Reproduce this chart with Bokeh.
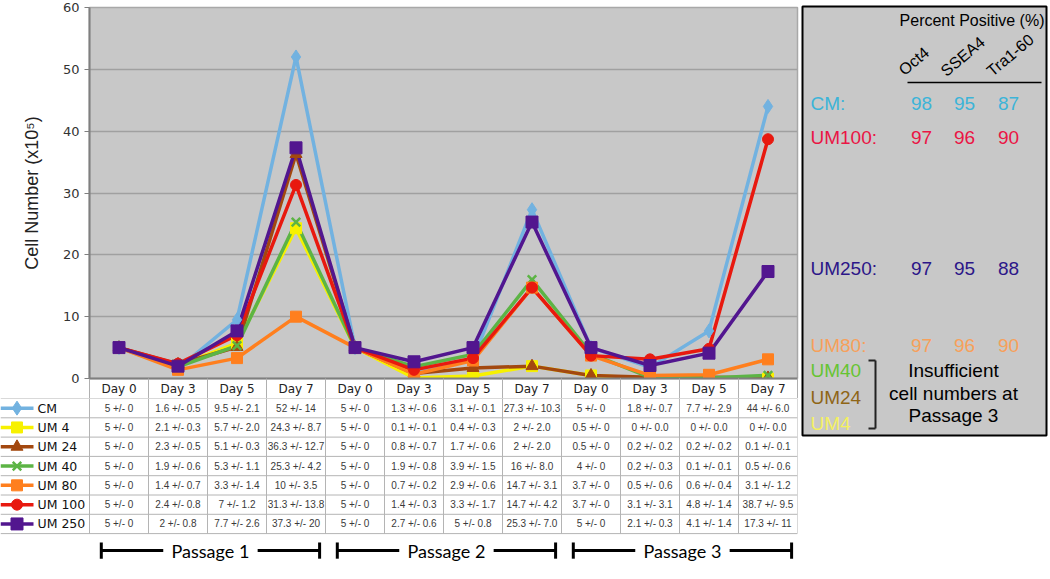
from bokeh.plotting import figure
from bokeh.models import Range1d, FixedTicker, ColumnDataSource
from bokeh.layouts import row, column
from bokeh.embed import file_html
from bokeh.resources import INLINE
from bokeh.core.properties import value

# ---------------- data ----------------
days = ["Day 0", "Day 3", "Day 5", "Day 7"] * 3
passages = ["Passage 1", "Passage 2", "Passage 3"]
y_ticks = [0, 10, 20, 30, 40, 50, 60]

series_names = ["CM", "UM 4", "UM 24", "UM 40", "UM 80", "UM 100", "UM 250"]

cm_mean = [5, 1.6, 9.5, 52, 5, 1.3, 3.1, 27.3, 5, 1.8, 7.7, 44]
cm_sd = ["0", "0.5", "2.1", "14", "0", "0.6", "0.1", "10.3", "0", "0.7", "2.9", "6.0"]
um4_mean = [5, 2.1, 5.7, 24.3, 5, 0.1, 0.4, 2, 0.5, 0, 0, 0]
um4_sd = ["0", "0.3", "2.0", "8.7", "0", "0.1", "0.3", "2.0", "0", "0.0", "0.0", "0.0"]
um24_mean = [5, 2.3, 5.1, 36.3, 5, 0.8, 1.7, 2, 0.5, 0.2, 0.2, 0.1]
um24_sd = ["0", "0.5", "0.3", "12.7", "0", "0.7", "0.6", "2.0", "0", "0.2", "0.2", "0.1"]
um40_mean = [5, 1.9, 5.3, 25.3, 5, 1.9, 3.9, 16, 4, 0.2, 0.1, 0.5]
um40_sd = ["0", "0.6", "1.1", "4.2", "0", "0.8", "1.5", "8.0", "0", "0.3", "0.1", "0.6"]
um80_mean = [5, 1.4, 3.3, 10, 5, 0.7, 2.9, 14.7, 3.7, 0.5, 0.6, 3.1]
um80_sd = ["0", "0.7", "1.4", "3.5", "0", "0.2", "0.6", "3.1", "0", "0.6", "0.4", "1.2"]
um100_mean = [5, 2.4, 7, 31.3, 5, 1.4, 3.3, 14.7, 3.7, 3.1, 4.8, 38.7]
um100_sd = ["0", "0.8", "1.2", "13.8", "0", "0.3", "1.7", "4.2", "0", "3.1", "1.4", "9.5"]
um250_mean = [5, 2, 7.7, 37.3, 5, 2.7, 5, 25.3, 5, 2.1, 4.1, 17.3]
um250_sd = ["0", "0.8", "2.6", "20", "0", "0.6", "0.8", "7.0", "0", "0.3", "1.4", "11"]

means = [cm_mean, um4_mean, um24_mean, um40_mean, um80_mean, um100_mean, um250_mean]
sds = [cm_sd, um4_sd, um24_sd, um40_sd, um80_sd, um100_sd, um250_sd]

# percent positive panel
pp_names = ["CM:", "UM100:", "UM250:", "UM80:"]
pp_oct4 = [98, 97, 97, 97]
pp_ssea4 = [95, 96, 95, 96]
pp_tra160 = [87, 90, 88, 90]
pp_markers = ["Oct4", "SSEA4", "Tra1-60"]
insufficient_names = ["UM40", "UM24", "UM4"]
insufficient_note = ["Insufficient", "cell numbers at", "Passage 3"]

# ---------------- styles ----------------
colors = ["#72b2e0", "#f7f100", "#a3480f", "#5cb445", "#ff7f1e", "#e8190f", "#52168f"]
markers = ["diamond", "square", "triangle", "x", "square", "circle", "square"]
msizes = [14, 11, 12, 12, 11, 11, 12]
pp_colors = ["#3cb4d8", "#ea1545", "#2c1688", "#f7a05a"]
ins_colors = ["#66c432", "#8f6516", "#f4f060"]

NC = len(days)
xpos = [i + 0.5 for i in range(NC)]
PX_PER_COL = 59.0
LEFT_W = 800
LABEL_W = 89

# ---------------- chart ----------------
p = figure(width=LEFT_W, height=398, x_range=Range1d(0, NC), y_range=Range1d(0, 60),
           output_backend="svg", toolbar_location=None, frame_align=False,
           min_border_left=LABEL_W, min_border_right=3, min_border_top=7, min_border_bottom=20,
           background_fill_color="#c8c8c8", border_fill_color="white",
           outline_line_color="#a8a8a8", outline_line_width=1.5)
p.xgrid.grid_line_color = None
p.ygrid.grid_line_color = "#a0a0a0"
p.ygrid.grid_line_width = 1.5
p.ygrid.ticker = FixedTicker(ticks=y_ticks)

p.yaxis.ticker = FixedTicker(ticks=y_ticks)
p.yaxis.axis_line_color = "#7f7f7f"
p.yaxis.axis_line_width = 2
p.yaxis.major_tick_out = 5
p.yaxis.major_tick_in = 0
p.yaxis.minor_tick_line_color = None
p.yaxis.major_tick_line_color = "#7f7f7f"
p.yaxis.major_label_text_font = "DejaVu Sans"
p.yaxis.major_label_text_font_size = "13px"
p.yaxis.major_label_text_color = "#333333"
p.yaxis.axis_label = "Cell Number (x10\u2075)"
p.yaxis.axis_label_text_font = "Liberation Sans"
p.yaxis.axis_label_text_font_style = "normal"
p.yaxis.axis_label_text_font_size = "18px"
p.yaxis.axis_label_text_color = "#222222"
p.yaxis.axis_label_standoff = 18

p.xaxis.ticker = FixedTicker(ticks=xpos, minor_ticks=list(range(NC + 1)))
p.xaxis.major_label_overrides = {xpos[i]: days[i] for i in range(NC)}
p.xaxis.major_tick_out = 0
p.xaxis.major_tick_in = 0
p.xaxis.minor_tick_out = 20
p.xaxis.minor_tick_in = 0
p.xaxis.minor_tick_line_color = "#b0b0b0"
p.xaxis.minor_tick_line_width = 1
p.xaxis.axis_line_color = "#7f7f7f"
p.xaxis.axis_line_width = 2
p.xaxis.major_label_standoff = -17
p.xaxis.major_label_text_font = "DejaVu Sans"
p.xaxis.major_label_text_font_size = "12px"
p.xaxis.major_label_text_color = "#222222"

for k in range(len(series_names)):
    src = ColumnDataSource(dict(x=xpos, y=means[k]))
    p.line("x", "y", source=src, line_color=colors[k], line_width=3.5)
for k in range(len(series_names)):
    src = ColumnDataSource(dict(x=xpos, y=means[k]))
    if markers[k] == "x":
        p.scatter("x", "y", source=src, marker="x", size=msizes[k], line_color=colors[k], line_width=2.5)
    else:
        p.scatter("x", "y", source=src, marker=markers[k], size=msizes[k],
                  fill_color=colors[k], line_color=colors[k])

# ---------------- table ----------------
ROW_PX = 19.3
T_H = 175
x_left = -LABEL_W / PX_PER_COL
t = figure(width=LEFT_W, height=T_H, x_range=Range1d(x_left, NC), y_range=Range1d(T_H / ROW_PX, 0),
           output_backend="svg", toolbar_location=None, frame_align=False,
           min_border_left=0, min_border_right=3, min_border_top=0, min_border_bottom=0,
           x_axis_location=None, y_axis_location=None,
           background_fill_color="white", border_fill_color="white", outline_line_color=None)
t.grid.grid_line_color = None

nrows = len(series_names)
hy = list(range(nrows + 1))
t.segment(x0=[x_left] * len(hy), x1=[NC] * len(hy), y0=hy, y1=hy, line_color="#b4b4b4", line_width=1)
vx = list(range(NC + 1))
t.segment(x0=vx, x1=vx, y0=[0] * len(vx), y1=[nrows] * len(vx), line_color="#b4b4b4", line_width=1)

cx, cy, ctext = [], [], []
for r in range(nrows):
    for c in range(NC):
        cx.append(xpos[c])
        cy.append(r + 0.5)
        ctext.append("%g +/- %s" % (means[r][c], sds[r][c]))
t.text(x=cx, y=cy, text=ctext, text_font=value("Liberation Sans"), text_font_size="10px",
       text_color="#3a3a3a", text_align="center", text_baseline="middle")

# legend column
ly = [r + 0.5 for r in range(nrows)]
lx0 = x_left
lx1 = x_left + 33 / PX_PER_COL
lxm = (lx0 + lx1) / 2
for r in range(nrows):
    t.segment(x0=[lx0], x1=[lx1], y0=[ly[r]], y1=[ly[r]], line_color=colors[r], line_width=3.5)
    if markers[r] == "x":
        t.scatter(x=[lxm], y=[ly[r]], marker="x", size=msizes[r], line_color=colors[r], line_width=2.5)
    else:
        t.scatter(x=[lxm], y=[ly[r]], marker=markers[r], size=msizes[r],
                  fill_color=colors[r], line_color=colors[r])
t.text(x=[x_left + 37 / PX_PER_COL] * nrows, y=ly, text=series_names, text_font=value("DejaVu Sans"),
       text_font_size="12.5px", text_color="#111111", text_align="left", text_baseline="middle")

# passage brackets
py = 7.88
for k, name in enumerate(passages):
    s = 4 * k + 0.2
    e = 4 * k + 3.9
    c = 4 * k + 2.05
    t.segment(x0=[s, c + 0.8], x1=[c - 0.8, e], y0=[py, py], y1=[py, py], line_color="black", line_width=3)
    t.segment(x0=[s, e], x1=[s, e], y0=[py - 0.42, py - 0.42], y1=[py + 0.42, py + 0.42],
              line_color="black", line_width=3)
    t.text(x=[c], y=[py], text=[name], text_font=value("Lato"), text_font_size="18px",
           text_color="black", text_align="center", text_baseline="middle")

# ---------------- right panel ----------------
PW = 244
PH = 429
q = figure(width=PW + 4, height=PH + 8, x_range=Range1d(0, PW), y_range=Range1d(PH, 0),
           output_backend="svg", toolbar_location=None, frame_align=False,
           min_border_left=2, min_border_right=2, min_border_top=6, min_border_bottom=2,
           x_axis_location=None, y_axis_location=None,
           background_fill_color="#c8c8c8", border_fill_color="white",
           outline_line_color="black", outline_line_width=2)
q.grid.grid_line_color = None

q.text(x=[242], y=[14], text=["Percent Positive (%)"], text_font=value("Liberation Sans"),
       text_font_size="16px", text_color="black", text_align="right", text_baseline="middle")
q.text(x=[104, 146, 192], y=[72, 73, 73], text=pp_markers, angle=0.7,
       text_font=value("Liberation Sans"), text_font_size="16px", text_color="black",
       text_align="left", text_baseline="bottom")
q.segment(x0=[105], x1=[239], y0=[76], y1=[76], line_color="black", line_width=1.5)

row_y = [97, 131, 262, 339]
col_x = [119, 162, 206]
q.text(x=[8] * len(pp_names), y=row_y, text=pp_names, text_color=pp_colors,
       text_font=value("Liberation Sans"), text_font_size="19px", text_align="left", text_baseline="middle")
for vals, xx in zip([pp_oct4, pp_ssea4, pp_tra160], col_x):
    q.text(x=[xx] * len(vals), y=row_y, text=[str(v) for v in vals], text_color=pp_colors,
           text_font=value("Liberation Sans"), text_font_size="19px", text_align="center",
           text_baseline="middle")

ins_y = [364, 391, 417]
q.text(x=[8] * 3, y=ins_y, text=insufficient_names, text_color=ins_colors,
       text_font=value("Liberation Sans"), text_font_size="19px", text_align="left", text_baseline="middle")
q.segment(x0=[73, 66, 66], x1=[73, 73, 73], y0=[354, 354, 422], y1=[422, 354, 422],
          line_color="#222222", line_width=2)
q.text(x=[151] * 3, y=[364, 387, 409], text=insufficient_note,
       text_font=value("Liberation Sans"), text_font_size="19px", text_color="black",
       text_align="center", text_baseline="middle")

layout = row(column(p, t), q)
open("out.html", "w").write(file_html(layout, INLINE))
